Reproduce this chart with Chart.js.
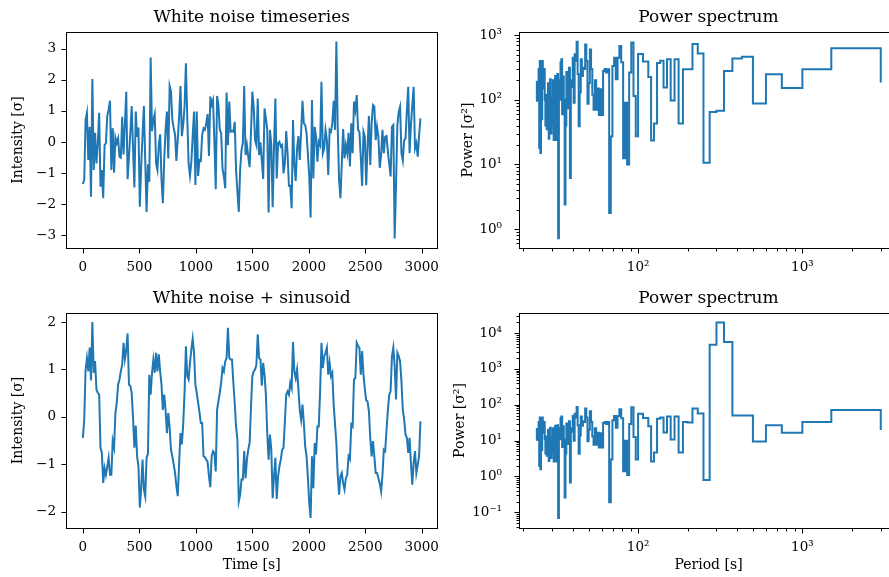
<!DOCTYPE html>
<html>
<head>
<meta charset="utf-8">
<style>
  html, body { margin: 0; padding: 0; background: #fff; width: 889px; height: 577px; overflow: hidden; }
  canvas { position: absolute; }
</style>
<script src="https://cdn.jsdelivr.net/npm/chart.js"></script>
</head>
<body>
<canvas id="noiseSeries" width="445" height="290" style="left:0px;top:0px"></canvas>
<canvas id="noiseSpectrum" width="453" height="290" style="left:445px;top:0px"></canvas>
<canvas id="sineSeries" width="445" height="287" style="left:0px;top:290px"></canvas>
<canvas id="sineSpectrum" width="453" height="287" style="left:445px;top:290px"></canvas>
<script>
//  Data
var sampleStep = 12;      // s between samples
var recordLength = 3000;  // s, used for the period of each frequency bin

var noiseValues = [
  -1.35, -1.22, 0.71, 0.94, -0.58, 0.49, -1.76, 2.03, -0.90, 0.30,
  -0.69, -0.04, 0.94, -1.44, -0.90, -1.81, -0.10, -0.04, 0.84, 1.05,
  1.33, -0.90, 0.44, -0.99, 0.14, -0.04, 0.12, -0.47, -0.50, 0.81,
  -0.40, 0.60, 1.62, -1.20, -0.47, 0.30, 1.16, -0.20, -1.46, 0.98,
  0.17, 0.47, -2.08, -0.79, 0.20, 1.16, -0.60, -2.25, -0.72, -1.28,
  2.72, 0.35, 0.71, 0.90, -0.69, -0.90, -0.10, 0.25, -1.20, -1.97,
  -0.56, 0.40, 0.98, -0.53, 1.80, 1.62, 0.71, 0.45, 0.23, -0.61,
  0.10, 0.81, 1.80, 0.19, 0.55, 1.14, 2.53, 0.80, -0.69, -1.08,
  -0.66, 0.20, 0.98, -1.38, 0.98, -1.09, -0.58, -0.61, 0.23, 0.44,
  0.39, 0.60, 0.90, -0.45, 1.46, 1.20, 1.35, 0.06, -1.52, 1.48,
  1.19, 0.39, 0.28, -0.85, -1.10, -1.49, 1.59, -0.10, 1.30, 0.33,
  0.35, 0.33, 0.65, -0.90, -1.60, -2.25, -0.90, -0.26, -0.04, 1.80,
  -0.42, -0.10, -0.47, -0.81, 0.30, 1.62, 1.14, 0.06, -0.10, 1.40,
  -0.42, -0.01, -0.60, -1.19, 1.08, 0.76, 0.39, -2.27, 0.39, -0.10,
  -2.10, -0.15, 1.40, -1.17, -0.04, 0.01, -0.15, -0.10, -1.01, -0.69,
  0.35, -0.36, -1.41, -1.41, -2.13, 0.71, -0.74, -1.25, -0.20, 0.19,
  -0.58, 0.33, 1.33, 0.60, 0.55, 0.28, -0.40, -1.11, -2.43, 1.35,
  -1.17, 0.49, 0.17, -0.63, 0.01, -0.10, 1.94, -0.36, -0.20, 0.39,
  0.06, -1.06, 0.39, 0.33, 0.60, 1.33, 0.39, 3.23, 0.44, -1.22,
  -1.81, -0.69, 0.42, -0.53, -0.10, -0.36, 0.30, -0.79, 0.60, -0.36,
  1.30, 1.03, 1.51, 0.39, 0.33, -0.50, -1.41, 0.33, 0.17, -1.39,
  -0.15, 0.84, -0.74, 0.60, 1.19, 1.14, 0.06, 0.49, 0.17, -0.83,
  -0.42, 0.39, -0.36, 0.17, 0.19, -0.31, -0.70, -1.11, 0.49, 0.55,
  -3.10, -1.38, 0.55, 0.98, 1.14, -0.36, -0.60, 0.06, 0.12, 1.00,
  1.78, -0.36, 0.55, 1.19, 1.78, -0.20, -0.04, -0.47, 0.20, 0.76
];

var sineValues = [
  -0.44, -0.06, 1.00, 1.24, 0.96, 1.46, 0.77, 2.00, 0.93, 1.18,
  0.58, 0.51, 0.47, -0.65, -0.76, -1.39, -1.08, -1.22, -1.04, -0.86,
  -1.22, -1.22, -0.51, -0.65, 0.08, 0.30, 0.68, 0.79, 0.96, 1.10,
  1.56, 1.22, 1.42, 1.76, 0.68, 0.65, 0.51, -0.02, -0.65, -0.18,
  -0.83, -1.04, -1.91, -1.50, -0.90, -1.53, -1.67, -0.86, -0.78, 0.89,
  0.47, 0.93, 1.21, 0.93, 1.35, 0.96, 1.32, 0.96, 0.68, 0.15,
  0.47, 0.15, -0.34, 0.08, -0.23, -0.69, -0.83, -1.00, -1.18, -1.46,
  -1.67, -0.97, -0.34, -0.58, -0.16, 0.51, 1.49, 0.86, 0.79, 1.14,
  1.42, 1.65, 1.35, 0.68, 0.51, 0.30, 0.10, -0.13, -0.13, -0.83,
  -0.85, -0.90, -0.94, -1.25, -1.48, -0.83, -0.72, -0.76, -1.15, 0.15,
  0.33, 0.51, 0.72, 1.03, 0.96, 1.17, 1.24, 1.88, 1.24, 1.21,
  1.21, 0.72, 0.30, -0.20, -0.48, -1.78, -1.64, -1.32, -1.32, -0.72,
  -1.29, -0.90, -0.69, -0.55, 0.20, 0.86, 0.96, 1.00, 1.10, 1.74,
  1.24, 1.21, 0.66, 1.14, 0.89, 0.47, -0.34, -0.90, -0.37, -0.69,
  -1.71, -1.25, -0.86, -1.73, -1.25, -1.04, -0.90, -0.69, -0.65, -0.09,
  0.47, 0.54, 0.47, 0.72, 0.61, 1.58, 0.96, 0.82, 1.00, 0.58,
  0.15, -0.06, 0.26, -0.13, -0.62, -0.83, -1.29, -1.81, -2.13, -0.83,
  -1.50, -0.55, -0.79, -0.20, -0.20, 0.54, 1.56, 1.03, 1.28, 1.35,
  1.46, 0.89, 1.14, 0.86, 0.93, 0.26, -0.15, -0.55, -1.22, -1.64,
  -1.25, -1.18, -1.40, -1.53, -1.29, -1.22, -0.83, -0.89, -0.16, -0.20,
  0.79, 0.82, 1.56, 1.49, 1.46, 0.89, 1.39, 0.89, 0.58, 0.35,
  0.33, 0.12, -0.44, -0.83, -0.51, -0.83, -1.18, -1.18, -1.29, -1.40,
  -1.57, -1.22, -0.69, -0.72, -0.27, 0.15, 0.47, 0.54, 1.28, 1.46,
  1.07, 0.37, 1.35, 1.28, 1.17, 0.75, 0.15, -0.05, -0.37, -0.44,
  -0.76, -0.44, -0.97, -1.43, -0.97, -0.72, -1.18, -1.01, -0.83, -0.09
];

// power per frequency bin k = 1, 2, 3 ... (period = recordLength / k)
var noisePower = [
  185, 630, 298, 152, 249, 88, 462, 436, 280, 68,
  65, 10.6, 521, 728, 298, 298, 43, 426, 98, 426,
  155, 402, 370, 43, 23.5, 226, 392, 392, 513, 513,
  27.4, 115, 773, 264, 10, 90, 12.5, 380, 680, 446,
  209, 446, 334, 27, 1.77, 298, 264, 300, 280, 58,
  146, 58, 150, 70, 200, 70, 120, 300, 600, 180,
  87, 400, 715, 300, 314, 233, 426, 130, 39, 250,
  790, 400, 508, 90, 446, 160, 200, 6.2, 314, 74,
  150, 270, 40, 2.4, 100, 230, 60, 426, 380, 100,
  200, 0.72, 250, 60, 24, 234, 180, 24, 200, 40,
  110, 30, 209, 110, 25, 180, 60, 35, 120, 40,
  100, 300, 220, 150, 400, 50, 400, 15, 400, 18,
  300, 100, 190, 187, 96
];

var sinePower = [
  19.7, 71, 33, 16.7, 27, 9.4, 50, 50, 5600, 19700,
  4730, 0.8, 57, 79, 32, 33, 4.7, 47, 10.8, 47,
  17, 44, 41, 4.7, 2.6, 25, 43, 43, 56, 56,
  3.0, 12.7, 85, 29, 1.1, 9.9, 1.4, 42, 75, 49,
  23, 49, 37, 3.0, 0.19, 33, 29, 33, 31, 6.4,
  16, 6.4, 16.5, 7.7, 22, 7.7, 13, 33, 66, 20,
  9.6, 44, 79, 33, 35, 26, 47, 14, 4.3, 27,
  87, 44, 56, 9.9, 49, 17.6, 22, 0.68, 35, 8.1,
  16.5, 30, 4.4, 0.26, 11, 25, 6.6, 47, 42, 11,
  22, 0.07, 27, 6.6, 2.6, 26, 20, 2.6, 22, 4.4,
  12, 3.3, 23, 12, 2.7, 20, 6.6, 3.8, 13, 4.4,
  11, 33, 24, 16.5, 44, 5.5, 44, 1.6, 44, 2.0,
  33, 11, 21, 21, 10.5
];

var timeTicks = [0, 500, 1000, 1500, 2000, 2500, 3000];
var noiseTicks = [-3, -2, -1, 0, 1, 2, 3];
var sineTicks = [-2, -1, 0, 1, 2];

var lineColor = "#1f77b4";
var serif = "DejaVu Serif";

Chart.defaults.font.family = serif;
Chart.defaults.color = "#000";

function supDigits(n) {
  var map = {"-": "\u207B", "0": "\u2070", "1": "\u00B9", "2": "\u00B2", "3": "\u00B3",
             "4": "\u2074", "5": "\u2075", "6": "\u2076", "7": "\u2077", "8": "\u2078", "9": "\u2079"};
  return String(n).split("").map(function(c) { return map[c]; }).join("");
}

function plainLabel(v) {
  return v < 0 ? "\u2212" + (-v) : String(v);
}

function logTicks(lo, hi) {
  var out = [];
  for (var e = Math.floor(Math.log10(lo)); e <= Math.ceil(Math.log10(hi)); e++) {
    for (var m = 1; m < 10; m++) {
      var v = m * Math.pow(10, e);
      if (v >= lo && v <= hi) out.push({value: v, major: m === 1});
    }
  }
  return out;
}

// box round the plot, outward tick marks and the panel title
var framePlugin = {
  id: "frame",
  afterDraw: function(chart, args, opts) {
    var ctx = chart.ctx, a = chart.chartArea;
    var l = Math.round(a.left) + 0.5, t = Math.round(a.top) + 0.5;
    var r = Math.round(a.right) + 0.5, b = Math.round(a.bottom) + 0.5;
    ctx.save();
    ctx.strokeStyle = "#000";
    ctx.lineWidth = 1;
    ctx.strokeRect(l, t, r - l, b - t);

    var xs = chart.scales.x, ys = chart.scales.y;
    ctx.beginPath();
    xs.ticks.forEach(function(tk) {
      var p = Math.round(xs.getPixelForValue(tk.value)) + 0.5;
      ctx.moveTo(p, b);
      ctx.lineTo(p, b + (tk.major ? 5 : 3));
    });
    ys.ticks.forEach(function(tk) {
      var p = Math.round(ys.getPixelForValue(tk.value)) + 0.5;
      ctx.moveTo(l, p);
      ctx.lineTo(l - (tk.major ? 5 : 3), p);
    });
    ctx.stroke();

    ctx.fillStyle = "#000";
    ctx.font = "17px '" + serif + "'";
    ctx.textAlign = "center";
    ctx.textBaseline = "middle";
    ctx.fillText(opts.title, (a.left + a.right) / 2, a.top - 14.5);
    ctx.restore();
  }
};

function seriesChart(id, values, yTicks, yMin, yMax, padTop, xHeight, showXTitle, title) {
  var points = values.map(function(v, i) { return {x: i * sampleStep, y: v}; });
  return new Chart(document.getElementById(id), {
    type: "line",
    data: {datasets: [{data: points, borderColor: lineColor, borderWidth: 2, pointRadius: 0, tension: 0, fill: false}]},
    options: {
      responsive: false, animation: false, devicePixelRatio: 1, events: [],
      layout: {padding: {top: padTop, right: 1, left: 0, bottom: 0}},
      plugins: {legend: {display: false}, tooltip: {enabled: false}, frame: {title: title}},
      scales: {
        x: {
          type: "linear", min: -149.4, max: 3137.4,
          grid: {drawOnChartArea: false, drawTicks: true, tickLength: 5, tickColor: "rgba(0,0,0,0)"},
          border: {display: false},
          ticks: {padding: 6, maxRotation: 0, autoSkip: false, font: {size: 13.5}, callback: function(v) { return plainLabel(v); }},
          afterBuildTicks: function(s) { s.ticks = timeTicks.map(function(v) { return {value: v, major: true}; }); },
          afterFit: function(s) { s.height = xHeight; },
          title: {display: showXTitle, text: "Time [s]", font: {size: 14}, padding: {top: 0, bottom: 3.5}}
        },
        y: {
          type: "linear", min: yMin, max: yMax,
          grid: {drawOnChartArea: false, drawTicks: true, tickLength: 5, tickColor: "rgba(0,0,0,0)"},
          border: {display: false},
          ticks: {padding: 5, autoSkip: false, font: {size: 13.5}, callback: function(v) { return plainLabel(v); }},
          afterBuildTicks: function(s) { s.ticks = yTicks.map(function(v) { return {value: v, major: true}; }); },
          afterFit: function(s) { s.width = 66; },
          title: {display: true, text: "Intensity [\u03C3]", font: {size: 14}, padding: {top: 10, bottom: 0}}
        }
      }
    },
    plugins: [framePlugin]
  });
}

function spectrumChart(id, power, yMin, yMax, padTop, xHeight, showXTitle, yTitlePad) {
  // ascending period order: highest frequency bin first
  var points = [];
  for (var k = power.length; k >= 1; k--) {
    points.push({x: recordLength / k, y: power[k - 1]});
  }
  return new Chart(document.getElementById(id), {
    type: "line",
    data: {datasets: [{data: points, borderColor: lineColor, borderWidth: 2, pointRadius: 0, stepped: "before", fill: false}]},
    options: {
      responsive: false, animation: false, devicePixelRatio: 1, events: [],
      layout: {padding: {top: padTop, right: 0, left: 0, bottom: 0}},
      plugins: {legend: {display: false}, tooltip: {enabled: false}, frame: {title: "Power spectrum"}},
      scales: {
        x: {
          type: "logarithmic", min: 18.84, max: 3820,
          grid: {drawOnChartArea: false, drawTicks: true, tickLength: 5, tickColor: "rgba(0,0,0,0)"},
          border: {display: false},
          ticks: {padding: 6, maxRotation: 0, autoSkip: false, font: {size: 13.5},
                  callback: function(v, i, t) { return t[i].major ? "10" + supDigits(Math.round(Math.log10(v))) : ""; }},
          afterBuildTicks: function(s) { s.ticks = logTicks(s.min, s.max); },
          afterFit: function(s) { s.height = xHeight; },
          title: {display: showXTitle, text: "Period [s]", font: {size: 14}, padding: {top: 0, bottom: 3.5}}
        },
        y: {
          type: "logarithmic", min: yMin, max: yMax,
          grid: {drawOnChartArea: false, drawTicks: true, tickLength: 5, tickColor: "rgba(0,0,0,0)"},
          border: {display: false},
          ticks: {padding: 12, autoSkip: false, font: {size: 13.5},
                  callback: function(v, i, t) { return t[i].major ? "10" + supDigits(Math.round(Math.log10(v))) : ""; }},
          afterBuildTicks: function(s) { s.ticks = logTicks(s.min, s.max); },
          afterFit: function(s) { s.width = 74; },
          title: {display: true, text: "Power [\u03C3\u00B2]", font: {size: 14}, padding: {top: yTitlePad, bottom: 0}}
        }
      }
    },
    plugins: [framePlugin]
  });
}

seriesChart("noiseSeries", noiseValues, noiseTicks, -3.41, 3.54, 32, 42, false, "White noise timeseries");
seriesChart("sineSeries", sineValues, sineTicks, -2.34, 2.19, 23, 49, true, "White noise + sinusoid");
spectrumChart("noiseSpectrum", noisePower, 0.51, 1120, 32, 42, false, 15);
spectrumChart("sineSpectrum", sinePower, 0.0366, 36300, 23, 49, true, 6.6);
</script>
</body>
</html>
